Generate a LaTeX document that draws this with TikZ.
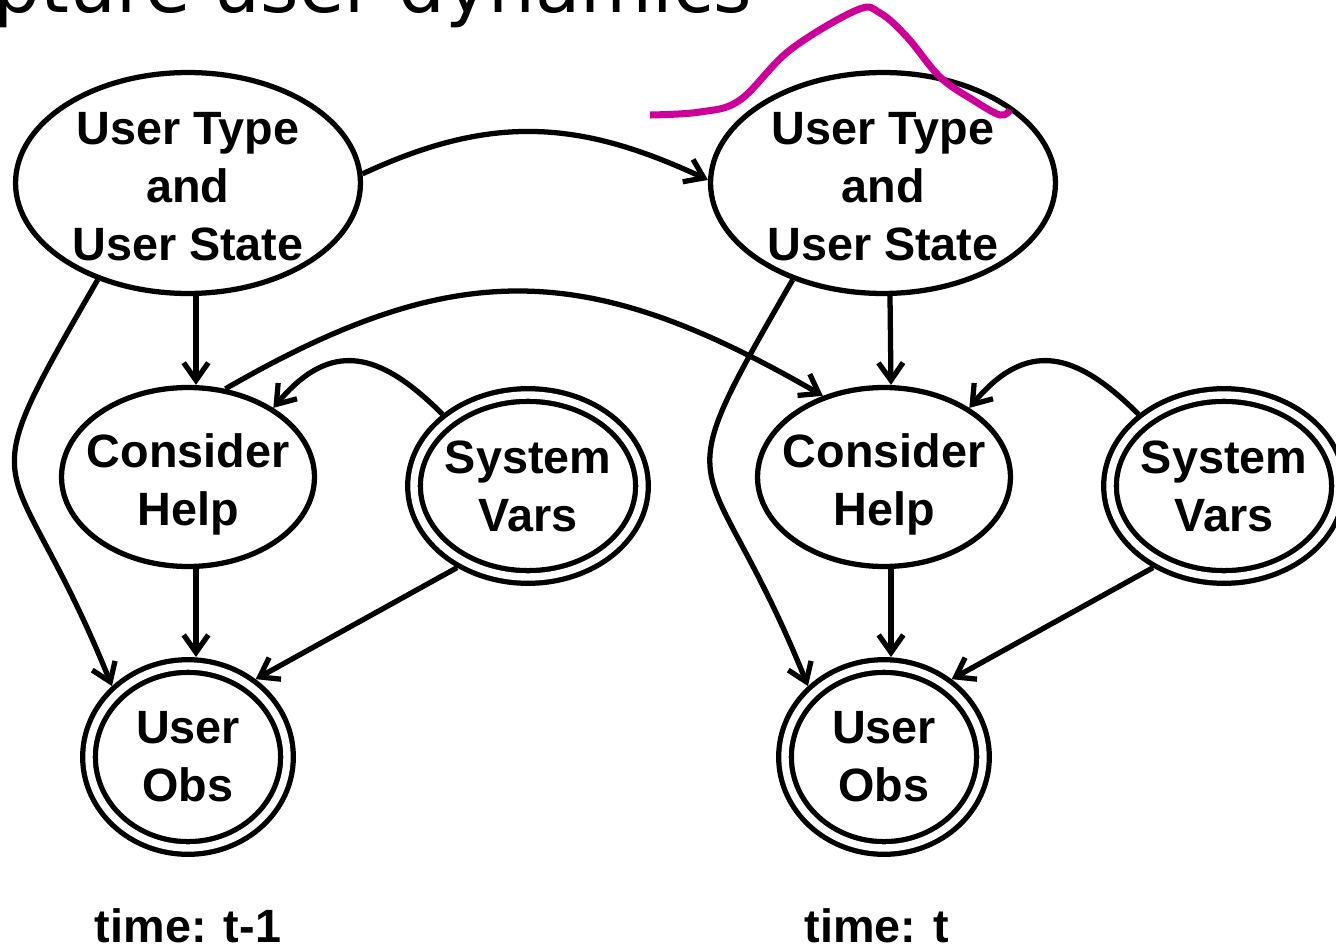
\documentclass[tikz,border=0pt]{standalone}
\usepackage{fontspec}
\setmainfont{Liberation Sans}
\newfontfamily\headfont{DejaVu Sans}
\usetikzlibrary{shapes.geometric,arrows.meta}
\definecolor{penmagenta}{RGB}{204,0,153}
\begin{document}
\begin{tikzpicture}[x=0.02cm,y=-0.02cm, line width=3pt,
  >={Straight Barb[length=10pt,width=14pt]},
  every node/.style={font=\bfseries\fontsize{26.6}{33}\selectfont, align=center},
  hidden/.style={ellipse, draw, inner sep=-7pt},
  observed/.style={ellipse, draw, double, double distance=4.2pt, inner sep=-7pt, outer sep=5.1pt}]
\useasboundingbox (0,0) rectangle (1336,946);
\clip (0,0) rectangle (1336,946);

\node[inner sep=0pt, anchor=base east, font=\headfont\fontsize{42}{50}\selectfont] (title) at (755,13) {Capture user dynamics};

% time t-1
\node[hidden, minimum width=6.9cm, minimum height=4.42cm] (UT1) at (188,183) {\rule{0pt}{23pt}User Type\\and\\User State};
\node[hidden, minimum width=5.06cm, minimum height=3.58cm, text depth=0pt] (CH1) at (188,477) {\rule{0pt}{22pt}Consider\\Help};
\node[observed, minimum width=4.56cm, minimum height=3.64cm] (SV1) at (528,486) {System\\Vars};
\node[observed, minimum width=3.96cm, minimum height=3.64cm] (UO1) at (188,757) {User\\Obs};
\node[anchor=base] (T1) at (188,942) {time: t-1};

% time t
\node[hidden, minimum width=6.9cm, minimum height=4.42cm] (UT2) at (883,183) {\rule{0pt}{23pt}User Type\\and\\User State};
\node[hidden, minimum width=5.06cm, minimum height=3.58cm, text depth=0pt] (CH2) at (884,477) {\rule{0pt}{22pt}Consider\\Help};
\node[observed, minimum width=4.56cm, minimum height=3.64cm] (SV2) at (1224,486) {System\\Vars};
\node[observed, minimum width=3.96cm, minimum height=3.64cm] (UO2) at (884,757) {User\\Obs};
\node[anchor=base] (T2) at (877,942) {time: t};

\draw[->] ([xshift=0.16cm]UT1.south) -- ([xshift=0.16cm]CH1.north);
\draw[->] ([xshift=0.16cm]CH1.south) -- ([xshift=0.16cm]UO1.north);
\draw[->] (UT1.227) to[out=240,in=112,looseness=1.7] (UO1.137);
\draw[->] (SV1.140) to[out=135,in=50,looseness=1.35] (CH1.39);
\draw[->] (SV1.229) -- (UO1.49);

\draw[->] ([xshift=0.14cm]UT2.south) -- ([xshift=0.14cm]CH2.north);
\draw[->] ([xshift=0.14cm]CH2.south) -- ([xshift=0.14cm]UO2.north);
\draw[->] (UT2.227) to[out=240,in=112,looseness=1.7] (UO2.137);
\draw[->] (SV2.140) to[out=135,in=50,looseness=1.35] (CH2.39);
\draw[->] (SV2.229) -- (UO2.49);

\draw[->] (UT1.3) to[out=25,in=155,looseness=1.05] (UT2.179);
\draw[->] (CH1.67) to[out=30,in=150,looseness=1.15] (CH2.127);

\draw[penmagenta, line width=4pt] plot[smooth, tension=0.6] coordinates {(650,115) (700,112) (740,100) (790,50) (857,10) (880,13) (907,37) (940,77) (973,100) (1000,115) (1010,110)};

\end{tikzpicture}
\end{document}
